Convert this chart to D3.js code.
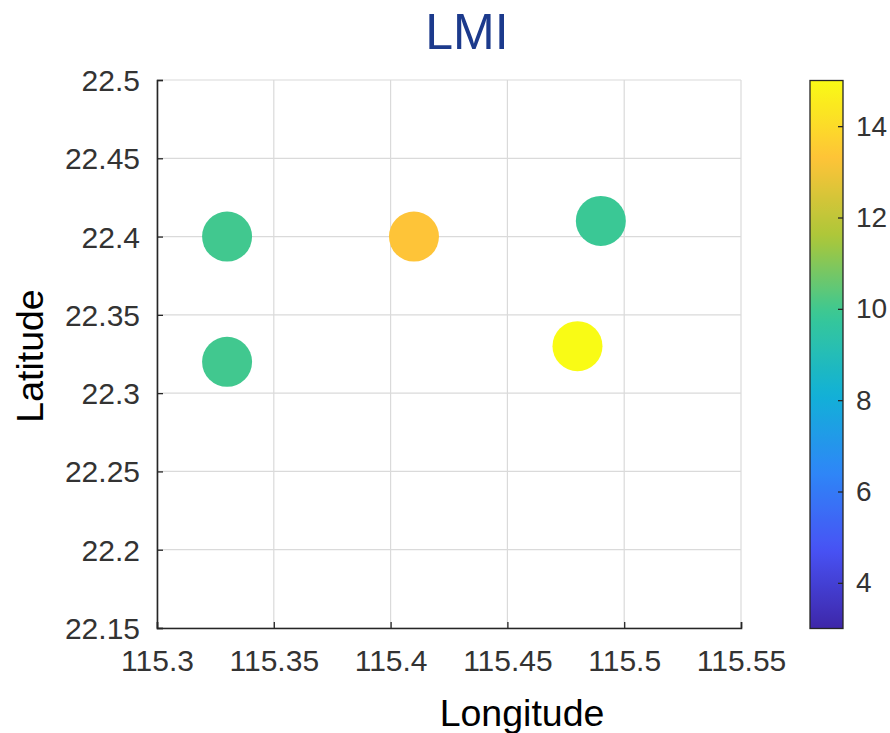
<!DOCTYPE html>
<html>
<head>
<meta charset="utf-8">
<script src="https://cdn.jsdelivr.net/npm/d3@7"></script>
<style>
  body { margin: 0; background: #fff; }
  text { font-family: "Liberation Sans", Arial, Helvetica, sans-serif; }
</style>
</head>
<body>
<div id="myChart"></div>
<script>
let width = 890;
let height = 733;

// station data
const lon = [115.33, 115.33, 115.41, 115.49, 115.48];
const lat = [22.40, 22.32, 22.40, 22.41, 22.33];
const lmi = [10.0, 10.0, 13.3, 9.9, 15.0];

const xTicks = [115.3, 115.35, 115.4, 115.45, 115.5, 115.55];
const yTicks = [22.15, 22.2, 22.25, 22.3, 22.35, 22.4, 22.45, 22.5];
const cTicks = [4, 6, 8, 10, 12, 14];

// parula, 8 samples
const parula = [
  [0.2422, 0.1504, 0.6603], [0.2810, 0.3228, 0.9579], [0.1786, 0.5289, 0.9682],
  [0.0689, 0.6948, 0.8394], [0.2161, 0.7843, 0.5923], [0.6720, 0.7793, 0.2227],
  [0.9970, 0.7659, 0.2199], [0.9769, 0.9839, 0.0805]
].map(c => d3.rgb(c[0] * 255, c[1] * 255, c[2] * 255));
const parulaInterp = d3.piecewise(d3.interpolateRgb, parula);

let svg = d3.select("#myChart").append("svg")
  .attr("width", width)
  .attr("height", height);

// scales
var x = d3.scaleLinear().domain([115.3, 115.55]).range([157, 741]);
var y = d3.scaleLinear().domain([22.15, 22.5]).range([628, 80]);
var color = d3.scaleSequential(parulaInterp).domain([3, 15]);
var cy = d3.scaleLinear().domain([3, 15]).range([628.5, 80.5]);

const axisCol = "#262626";

// grid
svg.append("g").selectAll("line").data(xTicks).enter().append("line")
  .attr("x1", d => x(d)).attr("x2", d => x(d))
  .attr("y1", y.range()[1]).attr("y2", y.range()[0])
  .attr("stroke", "#dadada").attr("stroke-width", 1.2);
svg.append("g").selectAll("line").data(yTicks).enter().append("line")
  .attr("x1", x.range()[0]).attr("x2", x.range()[1])
  .attr("y1", d => y(d)).attr("y2", d => y(d))
  .attr("stroke", "#dadada").attr("stroke-width", 1.2);

// points
svg.append("g").selectAll("circle").data(lmi).enter().append("circle")
  .attr("cx", (d, i) => x(lon[i]))
  .attr("cy", (d, i) => y(lat[i]))
  .attr("r", 25)
  .attr("fill", d => color(d));

// axes (MATLAB style: inward ticks)
var xAxis = svg.append("g").attr("transform", "translate(0,628)")
  .call(d3.axisBottom(x).tickValues(xTicks).tickSize(-6).tickPadding(22)
    .tickFormat(d => String(+d.toFixed(2))));
var yAxis = svg.append("g").attr("transform", "translate(157,0)")
  .call(d3.axisLeft(y).tickValues(yTicks).tickSize(-6).tickPadding(17)
    .tickFormat(d => String(+d.toFixed(2))));

[xAxis, yAxis].forEach(a => {
  a.select(".domain").attr("stroke", axisCol).attr("stroke-width", 1.6)
  a.selectAll(".tick line").attr("stroke", axisCol).attr("stroke-width", 1.3);
  a.selectAll(".tick text").attr("fill", "#333")
    .style("font-size", "30px")
    .style("font-family", "'Liberation Sans', Arial, sans-serif");
});
xAxis.selectAll(".tick text").attr("dy", "0.71em");
yAxis.selectAll(".tick text").attr("dy", "0.35em");

// colorbar
var defs = svg.append("defs");
var grad = defs.append("linearGradient").attr("id", "cbar")
  .attr("x1", 0).attr("y1", 1).attr("x2", 0).attr("y2", 0);
d3.range(0, 1.0001, 0.02).forEach(t => {
  grad.append("stop").attr("offset", t).attr("stop-color", parulaInterp(t));
});
svg.append("rect")
  .attr("x", 810).attr("y", cy(15))
  .attr("width", 33).attr("height", cy(3) - cy(15))
  .attr("fill", "url(#cbar)")
  .attr("stroke", axisCol).attr("stroke-width", 1.3);

var cAxis = svg.append("g").attr("transform", "translate(843,0)")
  .call(d3.axisRight(cy).tickValues(cTicks).tickSize(-5).tickPadding(13));
cAxis.select(".domain").remove();
cAxis.selectAll(".tick line").attr("stroke", axisCol).attr("stroke-width", 1.3);
cAxis.selectAll(".tick text").attr("fill", "#333")
  .style("font-size", "28px")
  .style("font-family", "'Liberation Sans', Arial, sans-serif");

// title and labels
svg.append("text")
  .attr("x", 467).attr("y", 49)
  .attr("text-anchor", "middle")
  .attr("fill", "#1c3a8c")
  .style("font-size", "50px")
  .text("LMI");

svg.append("text")
  .attr("x", 522).attr("y", 726)
  .attr("text-anchor", "middle")
  .attr("fill", "#000")
  .style("font-size", "37.5px")
  .text("Longitude");

svg.append("text")
  .attr("transform", "translate(43,356) rotate(-90)")
  .attr("text-anchor", "middle")
  .attr("fill", "#000")
  .style("font-size", "37.5px")
  .text("Latitude");
</script>
</body>
</html>
